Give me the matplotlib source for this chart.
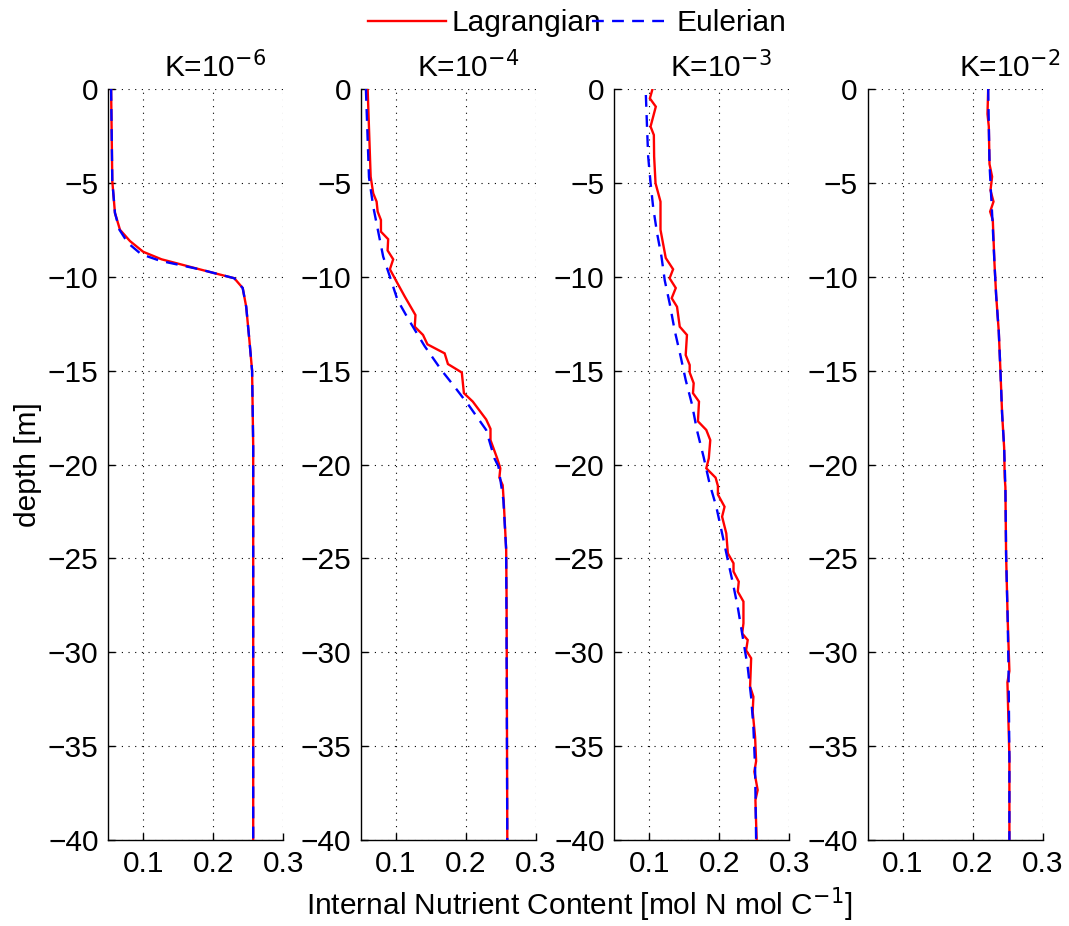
import matplotlib
matplotlib.use("Agg")
import matplotlib.pyplot as plt
from matplotlib.lines import Line2D

plt.rcParams['font.family'] = ['Liberation Sans', 'DejaVu Sans']
plt.rcParams['font.size'] = 21.5

titles = ["K=10$^{-6}$", "K=10$^{-4}$", "K=10$^{-3}$", "K=10$^{-2}$"]
title_x = [0.13, 0.13, 0.13, 0.181]

# ---- K=1e-6 ----
lag1_depth = [0, -4.9, -6.6, -7.5, -8.1, -8.67, -9.07, -9.6, -10.08, -10.6, -11.6, -13.4, -15.0, -19.0, -40]
lag1_val   = [0.054, 0.0557, 0.0595, 0.0667, 0.081, 0.0998, 0.126, 0.180, 0.230, 0.242, 0.247, 0.2516, 0.2554, 0.257, 0.257]
eul1_depth = [0, -4.9, -6.6, -7.5, -8.2, -8.8, -9.15, -9.6, -10.08, -10.6, -11.6, -13.4, -15.0, -19.0, -40]
eul1_val   = [0.054, 0.0557, 0.0595, 0.0660, 0.078, 0.097, 0.124, 0.180, 0.230, 0.242, 0.247, 0.2516, 0.2554, 0.257, 0.257]

# ---- K=1e-4 ----
lag2_depth = [0, -4.67, -5.56, -6.0, -6.53, -6.98, -7.6, -8.0, -8.6, -9.07, -9.6, -10.26, -11.06, -12.04,
              -12.66, -13.1, -13.6, -14.08, -14.65, -15.1, -16.2, -16.65, -17.6, -18.1, -18.7, -19.67,
              -20.2, -20.7, -21.1, -21.9, -24.55, -27.2, -40]
lag2_val   = [0.0595, 0.0638, 0.0675, 0.0723, 0.0738, 0.0785, 0.0785, 0.0888, 0.088, 0.096, 0.0913, 0.1008,
              0.1126, 0.1278, 0.1268, 0.1386, 0.1449, 0.1695, 0.1742, 0.194, 0.197, 0.2097, 0.2288, 0.235,
              0.235, 0.2445, 0.249, 0.2477, 0.2524, 0.2538, 0.2574, 0.258, 0.259]
eul2_depth = [0, -4.7, -6.27, -7.6, -8.93, -10.0, -11.24, -12.3, -13.7, -14.97, -15.86, -16.9, -18.16,
              -19.67, -20.1, -21.9, -24.55, -40]
eul2_val   = [0.057, 0.0614, 0.0675, 0.0746, 0.0817, 0.0913, 0.1022, 0.1183, 0.141, 0.1648, 0.1837, 0.205,
              0.2288, 0.2406, 0.2463, 0.2534, 0.2574, 0.259]

# ---- K=1e-3 ----
lag3_depth = [0, -0.5, -0.94, -2.0, -2.45, -3.6, -5.02, -6.0, -7.5, -9.0, -9.6, -10.08, -10.6, -11.14,
              -11.6, -12.66, -13.1, -14.17, -14.7, -15.1, -15.67, -16.2, -16.65, -17.7, -18.16, -18.7,
              -19.67, -20.2, -20.7, -21.14, -21.6, -22.25, -22.78, -23.67, -24.73, -25.26, -25.7, -26.24,
              -26.77, -27.3, -28.46, -29.0, -29.35, -29.9, -30.32, -31.83, -32.37, -33.17, -34.5, -35.8,
              -36.36, -37.34, -37.87, -39.1, -40]
lag3_val   = [0.1046, 0.1008, 0.1093, 0.1018, 0.1065, 0.1069, 0.1089, 0.116, 0.116, 0.1235, 0.134, 0.129,
              0.1378, 0.132, 0.1396, 0.1435, 0.1538, 0.152, 0.1577, 0.1577, 0.1634, 0.1624, 0.171, 0.1695,
              0.1814, 0.1871, 0.185, 0.1814, 0.1947, 0.198, 0.198, 0.2075, 0.204, 0.210, 0.2122, 0.2203,
              0.2203, 0.2278, 0.2264, 0.2345, 0.2345, 0.2327, 0.2406, 0.2383, 0.2455, 0.244, 0.2487, 0.2477,
              0.2511, 0.2526, 0.2501, 0.2548, 0.2516, 0.2526, 0.2534]
eul3_depth = [-0.32, -2.18, -3.6, -5.0, -6.3, -7.7, -8.93, -10.2, -11.44, -12.87, -14.2, -15.5, -16.8,
              -18.16, -19.6, -21.0, -22.25, -23.67, -25.1, -26.3, -27.6, -29.2, -30.8, -32.4, -34.0,
              -36.1, -40]
eul3_val   = [0.0951, 0.0969, 0.0984, 0.1018, 0.1055, 0.1112, 0.1174, 0.1221, 0.1292, 0.1363, 0.1445,
              0.152, 0.161, 0.168, 0.1776, 0.186, 0.1957, 0.204, 0.2122, 0.2193, 0.2264, 0.2335, 0.2406,
              0.2455, 0.2487, 0.2511, 0.2526]

# ---- K=1e-2 ----
lag4_depth = [0, -1.33, -2.0, -4.0, -4.67, -5.4, -6.0, -6.53, -6.98, -9.3, -11.0, -12.9, -15.0, -17.3,
              -19.1, -20.7, -21.2, -24.8, -28.3, -31.0, -31.6, -35.6, -40]
lag4_val   = [0.2224, 0.2214, 0.2233, 0.2243, 0.228, 0.2257, 0.230, 0.2252, 0.229, 0.2314, 0.2338, 0.2375,
              0.2399, 0.2423, 0.2452, 0.246, 0.247, 0.248, 0.2503, 0.2527, 0.2499, 0.2527, 0.2527]
eul4_depth = [0, -4.0, -7.0, -9.3, -11.0, -12.9, -15.0, -17.3, -19.1, -21.2, -24.8, -28.3, -31.0, -35.6, -40]
eul4_val   = [0.2224, 0.2243, 0.2285, 0.2314, 0.2338, 0.2375, 0.2399, 0.2423, 0.2452, 0.247, 0.248, 0.2503,
              0.2515, 0.2527, 0.2527]

lag_d = [lag1_depth, lag2_depth, lag3_depth, lag4_depth]
lag_v = [lag1_val, lag2_val, lag3_val, lag4_val]
eul_d = [eul1_depth, eul2_depth, eul3_depth, eul4_depth]
eul_v = [eul1_val, eul2_val, eul3_val, eul4_val]

x_ticks = [0.1, 0.2, 0.3]
x_tick_labels = ["0.1", "0.2", "0.3"]
y_ticks = [-40, -35, -30, -25, -20, -15, -10, -5, 0]
y_tick_labels = ["\u221240", "\u221235", "\u221230", "\u221225", "\u221220", "\u221215", "\u221210", "\u22125", "0"]

fig = plt.figure(figsize=(10.69, 9.26), dpi=100)
lefts = [108.3, 361.0, 614.3, 867.5]
W = 175.0 / 1069
B = 1 - 840 / 926
H = (840 - 89) / 926

for i in range(4):
    ax = fig.add_axes([lefts[i] / 1069, B, W, H])
    ax.plot(lag_v[i], lag_d[i], color='red', lw=1.7, solid_joinstyle='miter', zorder=3)
    ax.plot(eul_v[i], eul_d[i], color='blue', lw=1.7, dashes=(5, 3.5), zorder=4)
    ax.set_xlim(0.05, 0.3)
    ax.set_ylim(-40, 0)
    ax.set_xticks(x_ticks)
    ax.set_xticklabels(x_tick_labels)
    ax.set_yticks(y_ticks)
    ax.set_yticklabels(y_tick_labels)
    ax.tick_params(direction='in', length=5, width=1, pad=7)
    ax.spines['top'].set_visible(False)
    ax.spines['right'].set_visible(False)
    for s in ('left', 'bottom'):
        ax.spines[s].set_linewidth(1.0)
    ax.grid(True, color='black', linestyle=(0, (1, 5)), linewidth=0.8)
    ax.set_axisbelow(True)
    ax.text(title_x[i], 0.3, titles[i], ha='left', va='bottom', fontsize=21.5, clip_on=False)
    if i == 0:
        ax.set_ylabel("depth [m]", fontsize=21.5, labelpad=4)

fig.text(0.542, 0.002, "Internal Nutrient Content [mol N mol C$^{-1}$]", ha='center', va='bottom', fontsize=21.5)

handles = [Line2D([], [], color='red', lw=1.7), Line2D([], [], color='blue', lw=1.7, dashes=(5, 3.5))]
fig.legend(handles, ["Lagrangian", "Eulerian"], loc='center', bbox_to_anchor=(577 / 1069, 1 - 23 / 926),
           ncol=2, frameon=False, handlelength=2.6, handletextpad=0.2, columnspacing=-0.3, fontsize=21.5)

fig.savefig("out.png", dpi=100)
